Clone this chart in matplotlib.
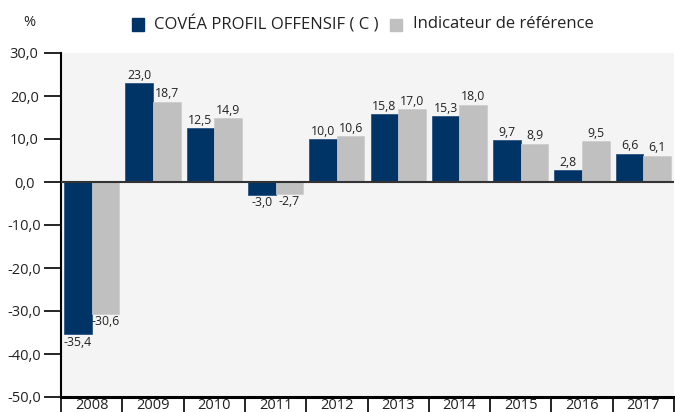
import numpy as np
import matplotlib.pyplot as plt
from matplotlib.patches import Rectangle

years = ['2008', '2009', '2010', '2011', '2012', '2013', '2014', '2015', '2016', '2017']
fund = [-35.4, 23.0, 12.5, -3.0, 10.0, 15.8, 15.3, 9.7, 2.8, 6.6]
ref = [-30.6, 18.7, 14.9, -2.7, 10.6, 17.0, 18.0, 8.9, 9.5, 6.1]
yticks = [30, 20, 10, 0, -10, -20, -30, -40, -50]

fund_color = '#003366'
ref_color = '#c0c0c0'
txt_color = '#222222'

plt.rcParams['font.family'] = ['Open Sans', 'DejaVu Sans']

fig = plt.figure(figsize=(6.75, 4.12), dpi=100)
ax = fig.add_axes([61 / 675, 15 / 412, 613 / 675, 344 / 412])
ax.set_facecolor('#f4f4f4')

x = np.arange(len(years))
w = 0.45
b1 = ax.bar(x - w / 2, fund, w, color=fund_color, edgecolor='#1a4a7a', linewidth=0.5)
b2 = ax.bar(x + w / 2, ref, w, color=ref_color, edgecolor='#cccccc', linewidth=0.5)
ax.axhline(0, color='#333333', linewidth=1.5, zorder=3)


def fmt(v):
    return ('%.1f' % v).replace('.', ',')


for bars, vals in ((b1, fund), (b2, ref)):
    for bar, v in zip(bars, vals):
        cx = bar.get_x() + bar.get_width() / 2
        if v >= 0:
            ax.annotate(fmt(v), (cx, v), xytext=(0, 1), textcoords='offset points',
                        ha='center', va='bottom', fontsize=8.8, color=txt_color)
        else:
            ax.annotate(fmt(v), (cx, v), xytext=(0, -1), textcoords='offset points',
                        ha='center', va='top', fontsize=8.8, color=txt_color)

ax.set_xlim(-0.5, len(years) - 0.5)
ax.set_ylim(-50, 30)
ax.set_yticks(yticks)
ax.set_yticklabels([fmt(v) for v in yticks], fontsize=10.5, color=txt_color, ha='center')
ax.tick_params(axis='y', length=12.5, width=1.2, color='black', pad=14)

ax.set_xticks(x)
ax.set_xticklabels(years, fontsize=10.5, color=txt_color)
ax.tick_params(axis='x', which='major', length=0, pad=1)
ax.set_xticks(np.arange(len(years) + 1) - 0.5, minor=True)
ax.tick_params(axis='x', which='minor', length=12, width=1.2, color='black')

for s in ('top', 'right'):
    ax.spines[s].set_visible(False)
ax.spines['left'].set_linewidth(1.5)
ax.spines['bottom'].set_linewidth(2.2)

fig.text(23 / 675, 1 - 23 / 412, '%', ha='left', va='center', fontsize=10.5, color=txt_color)

# legend
fig.patches.append(Rectangle((132 / 675, 1 - 31 / 412), 12 / 675, 13 / 412,
                             transform=fig.transFigure, color=fund_color))
fig.text(154 / 675, 1 - 24 / 412, 'COVÉA PROFIL OFFENSIF ( C )', ha='left', va='center',
         fontsize=12, color=txt_color)
fig.patches.append(Rectangle((390 / 675, 1 - 31 / 412), 12 / 675, 12 / 412,
                             transform=fig.transFigure, color=ref_color))
fig.text(413 / 675, 1 - 24 / 412, 'Indicateur de référence', ha='left', va='center',
         fontsize=12, color=txt_color)

fig.savefig('out.png', dpi=100)
